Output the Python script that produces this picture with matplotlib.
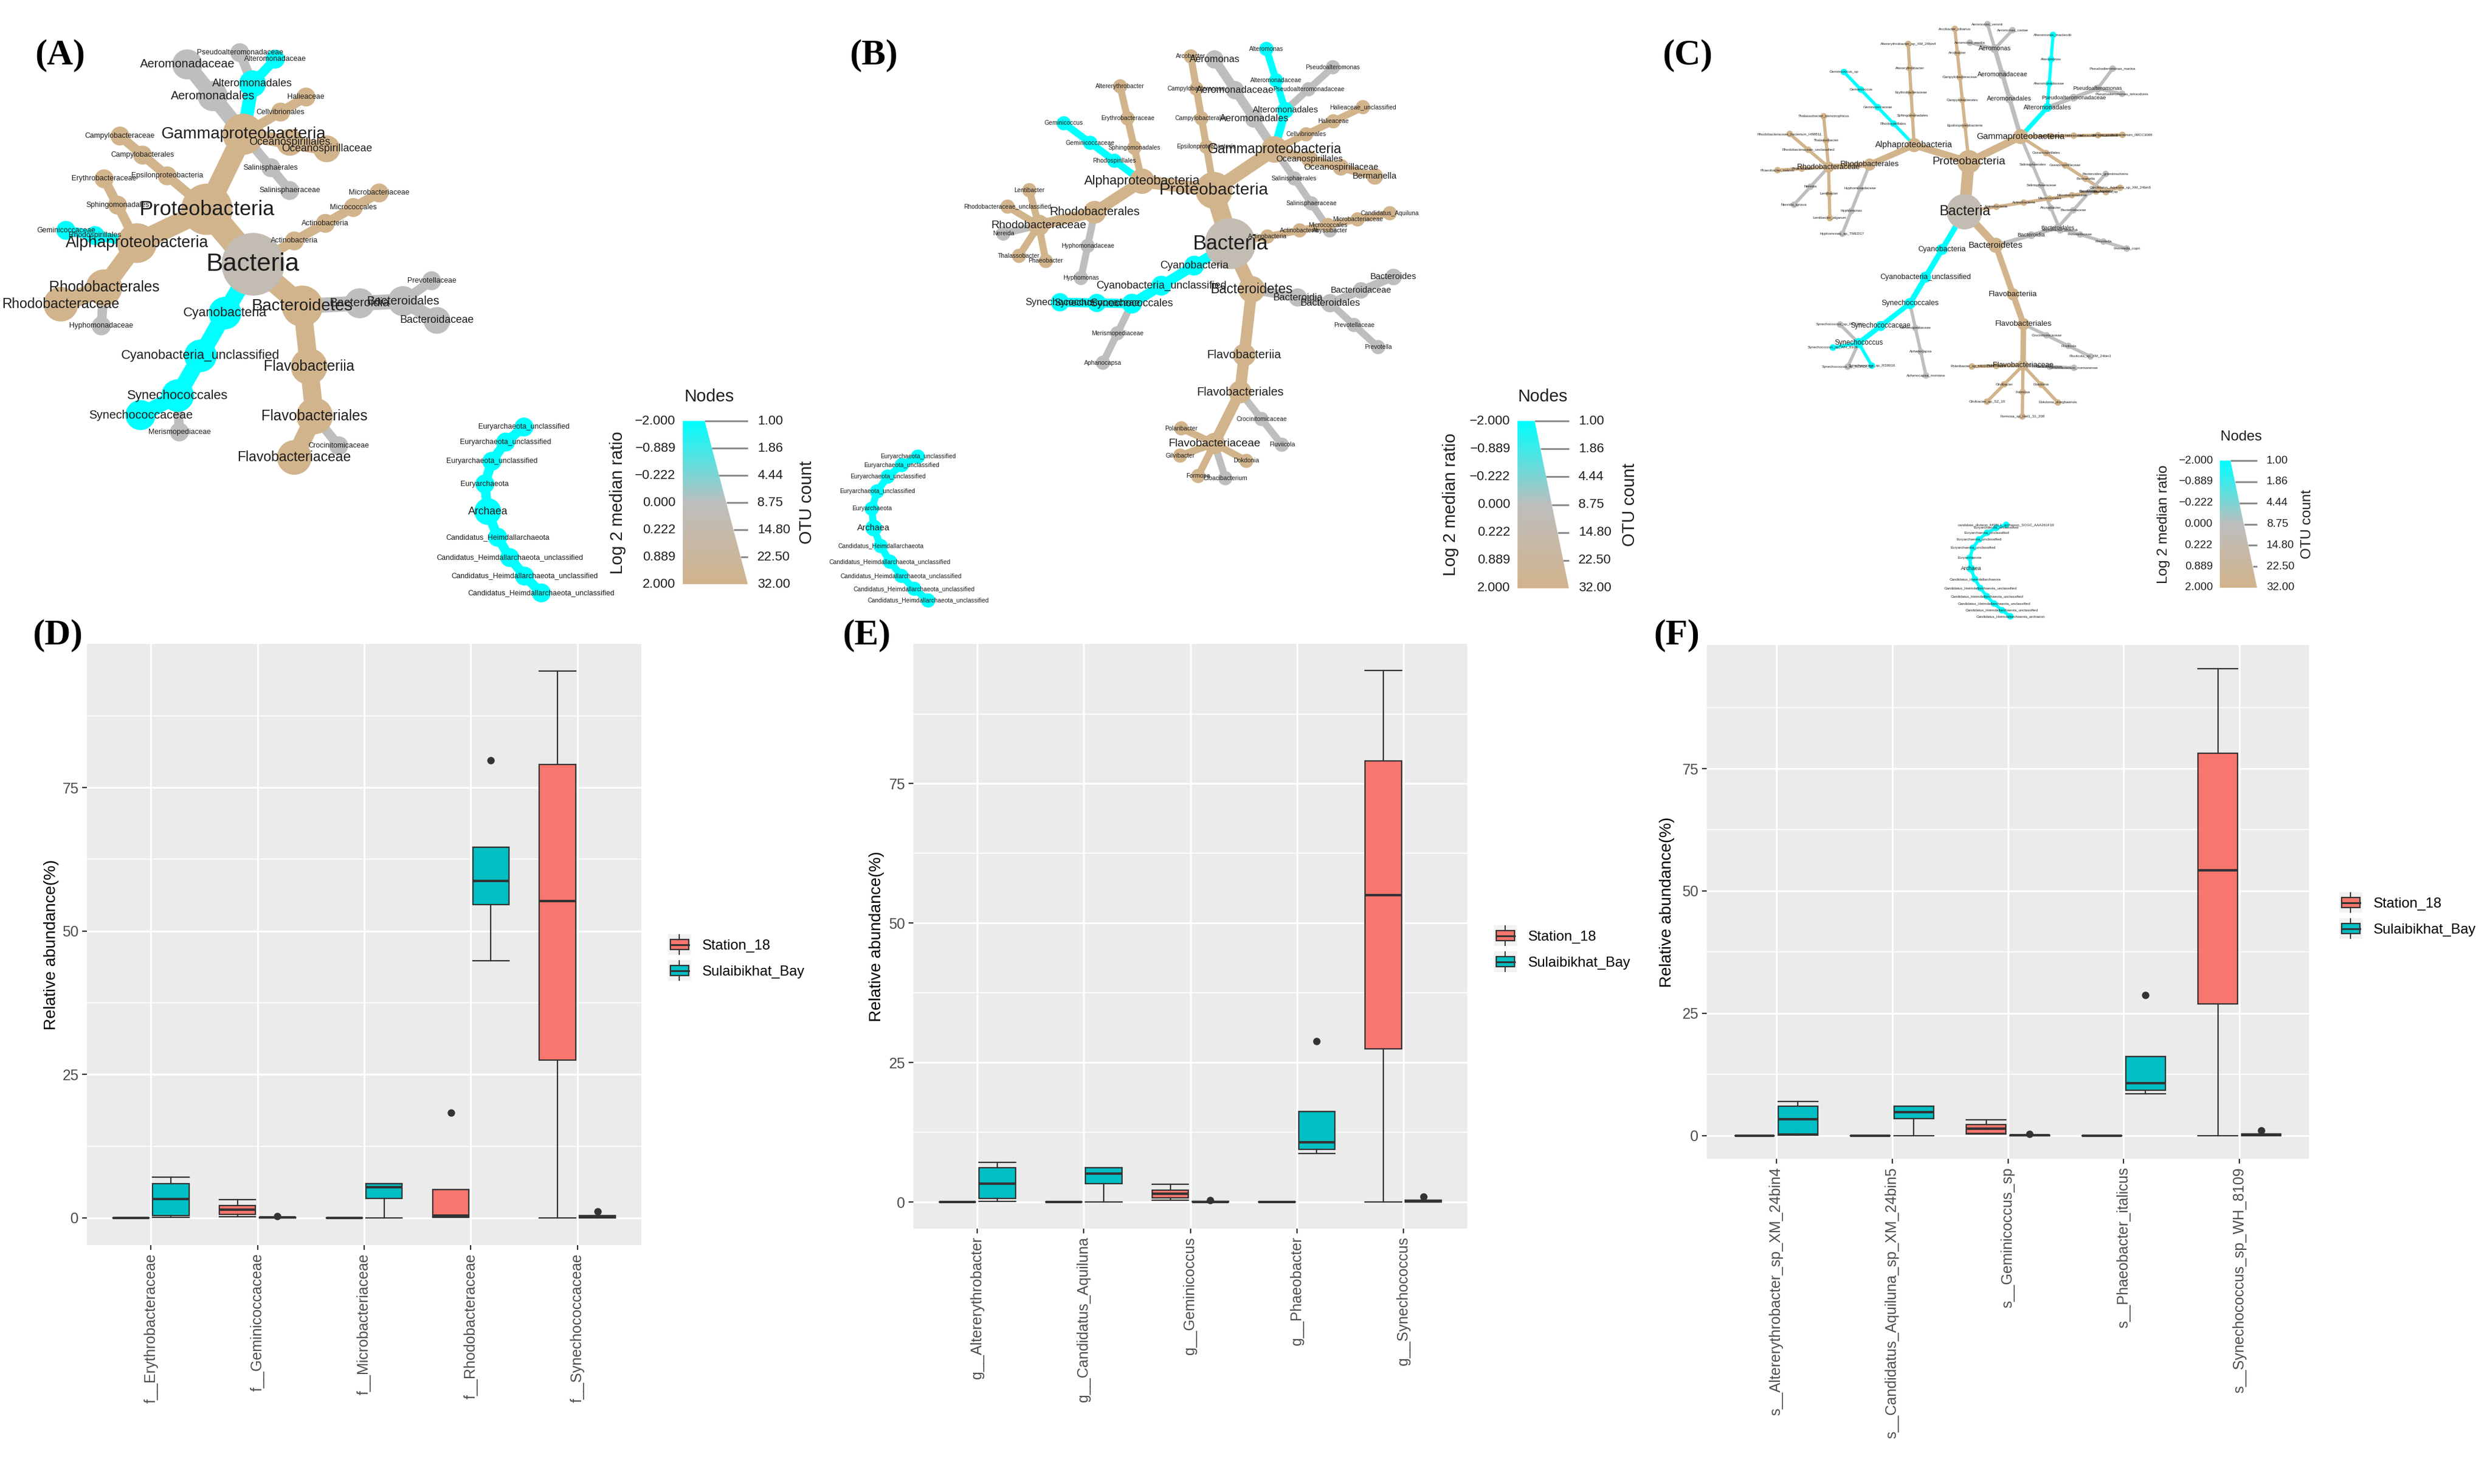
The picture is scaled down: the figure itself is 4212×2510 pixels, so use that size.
import numpy as np
import matplotlib
matplotlib.use("Agg")
import matplotlib.pyplot as plt
from matplotlib.colors import LinearSegmentedColormap
from matplotlib.patches import Circle, Polygon, Rectangle, Patch
from matplotlib.collections import PatchCollection, PolyCollection
from matplotlib.lines import Line2D
from matplotlib.legend_handler import HandlerBase

plt.rcParams['font.family'] = ['Liberation Sans', 'DejaVu Sans']

W, H = 4212, 2510

# ---------------- heat tree data: (depth, taxon, log2 median ratio, OTU count)
a_tree = [
    (0, "Bacteria", 0.15, 32),
    (1, "Proteobacteria", 2, 18),
    (2, "Alphaproteobacteria", 2, 8),
    (3, "Rhodobacterales", 2, 6),
    (4, "Hyphomonadaceae", 0, 1),
    (4, "Rhodobacteraceae", 2, 5),
    (3, "Rhodospirillales", -2, 1),
    (4, "Geminicoccaceae", -2, 1),
    (3, "Sphingomonadales", 2, 1),
    (4, "Erythrobacteraceae", 2, 1),
    (2, "Epsilonproteobacteria", 2, 1),
    (3, "Campylobacterales", 2, 1),
    (4, "Campylobacteraceae", 2, 1),
    (2, "Gammaproteobacteria", 2, 9),
    (3, "Aeromonadales", 0, 3),
    (4, "Aeromonadaceae", 0, 3),
    (3, "Alteromonadales", -2, 2),
    (4, "Pseudoalteromonadaceae", 0, 1),
    (4, "Alteromonadaceae", -2, 1),
    (3, "Cellvibrionales", 2, 1),
    (4, "Halieaceae", 2, 1),
    (3, "Oceanospirillales", 2, 2),
    (4, "Oceanospirillaceae", 2, 2),
    (3, "Salinisphaerales", 0, 1),
    (4, "Salinisphaeraceae", 0, 1),
    (1, "Actinobacteria", 2, 1),
    (2, "Actinobacteria", 2, 1),
    (3, "Micrococcales", 2, 1),
    (4, "Microbacteriaceae", 2, 1),
    (1, "Bacteroidetes", 2, 9),
    (2, "Bacteroidia", 0, 3),
    (3, "Bacteroidales", 0, 3),
    (4, "Prevotellaceae", 0, 1),
    (4, "Bacteroidaceae", 0, 2),
    (2, "Flavobacteriia", 2, 6),
    (3, "Flavobacteriales", 2, 6),
    (4, "Crocinitomicaceae", 0, 1),
    (4, "Flavobacteriaceae", 2, 5),
    (1, "Cyanobacteria", -2, 4),
    (2, "Cyanobacteria_unclassified", -2, 4),
    (3, "Synechococcales", -2, 4),
    (4, "Merismopediaceae", 0, 1),
    (4, "Synechococcaceae", -2, 3),
]
a_archaea = [
    (0, "Archaea", -2, 2),
    (1, "Euryarchaeota", -2, 1),
    (2, "Euryarchaeota_unclassified", -2, 1),
    (3, "Euryarchaeota_unclassified", -2, 1),
    (4, "Euryarchaeota_unclassified", -2, 1),
    (1, "Candidatus_Heimdallarchaeota", -2, 1),
    (2, "Candidatus_Heimdallarchaeota_unclassified", -2, 1),
    (3, "Candidatus_Heimdallarchaeota_unclassified", -2, 1),
    (4, "Candidatus_Heimdallarchaeota_unclassified", -2, 1),
]

b_tree = [
    (0, "Bacteria", 0.15, 32),
    (1, "Proteobacteria", 2, 18),
    (2, "Alphaproteobacteria", 2, 8),
    (3, "Rhodobacterales", 2, 6),
    (4, "Hyphomonadaceae", 0, 1),
    (5, "Hyphomonas", 0, 1),
    (4, "Rhodobacteraceae", 2, 5),
    (5, "Phaeobacter", 2, 1),
    (5, "Thalassobacter", 2, 1),
    (5, "Nereida", 0, 1),
    (5, "Rhodobacteraceae_unclassified", 2, 1),
    (5, "Lentibacter", 2, 1),
    (3, "Rhodospirillales", -2, 1),
    (4, "Geminicoccaceae", -2, 1),
    (5, "Geminicoccus", -2, 1),
    (3, "Sphingomonadales", 2, 1),
    (4, "Erythrobacteraceae", 2, 1),
    (5, "Altererythrobacter", 2, 1),
    (2, "Epsilonproteobacteria", 2, 1),
    (3, "Campylobacterales", 2, 1),
    (4, "Campylobacteraceae", 2, 1),
    (5, "Arcobacter", 2, 1),
    (2, "Gammaproteobacteria", 2, 9),
    (3, "Aeromonadales", 0, 3),
    (4, "Aeromonadaceae", 0, 3),
    (5, "Aeromonas", 0, 3),
    (3, "Alteromonadales", -2, 2),
    (4, "Alteromonadaceae", -2, 1),
    (5, "Alteromonas", -2, 1),
    (4, "Pseudoalteromonadaceae", 0, 1),
    (5, "Pseudoalteromonas", 0, 1),
    (3, "Cellvibrionales", 2, 1),
    (4, "Halieaceae", 2, 1),
    (5, "Halieaceae_unclassified", 2, 1),
    (3, "Oceanospirillales", 2, 2),
    (4, "Oceanospirillaceae", 2, 2),
    (5, "Bermanella", 2, 2),
    (3, "Salinisphaerales", 0, 1),
    (4, "Salinisphaeraceae", 0, 1),
    (5, "Abyssibacter", 0, 1),
    (1, "Actinobacteria", 2, 1),
    (2, "Actinobacteria", 2, 1),
    (3, "Micrococcales", 2, 1),
    (4, "Microbacteriaceae", 2, 1),
    (5, "Candidatus_Aquiluna", 2, 1),
    (1, "Bacteroidetes", 2, 9),
    (2, "Bacteroidia", 0, 3),
    (3, "Bacteroidales", 0, 3),
    (4, "Bacteroidaceae", 0, 2),
    (5, "Bacteroides", 0, 2),
    (4, "Prevotellaceae", 0, 1),
    (5, "Prevotella", 0, 1),
    (2, "Flavobacteriia", 2, 6),
    (3, "Flavobacteriales", 2, 6),
    (4, "Crocinitomicaceae", 0, 1),
    (5, "Fluviicola", 0, 1),
    (4, "Flavobacteriaceae", 2, 5),
    (5, "Dokdonia", 2, 1),
    (5, "Cloacibacterium", 0, 1),
    (5, "Formosa", 2, 1),
    (5, "Gilvibacter", 2, 1),
    (5, "Polaribacter", 2, 1),
    (1, "Cyanobacteria", -2, 4),
    (2, "Cyanobacteria_unclassified", -2, 4),
    (3, "Synechococcales", -2, 4),
    (4, "Merismopediaceae", 0, 1),
    (5, "Aphanocapsa", 0, 1),
    (4, "Synechococcaceae", -2, 3),
    (5, "Synechococcus", -2, 3),
]
b_archaea = [
    (0, "Archaea", -2, 2),
    (1, "Euryarchaeota", -2, 1),
    (2, "Euryarchaeota_unclassified", -2, 1),
    (3, "Euryarchaeota_unclassified", -2, 1),
    (4, "Euryarchaeota_unclassified", -2, 1),
    (5, "Euryarchaeota_unclassified", -2, 1),
    (1, "Candidatus_Heimdallarchaeota", -2, 1),
    (2, "Candidatus_Heimdallarchaeota_unclassified", -2, 1),
    (3, "Candidatus_Heimdallarchaeota_unclassified", -2, 1),
    (4, "Candidatus_Heimdallarchaeota_unclassified", -2, 1),
    (5, "Candidatus_Heimdallarchaeota_unclassified", -2, 1),
]

c_tree = [
    (0, "Bacteria", 0.15, 32),
    (1, "Proteobacteria", 2, 18),
    (2, "Alphaproteobacteria", 2, 8),
    (3, "Rhodobacterales", 2, 6),
    (4, "Hyphomonadaceae", 0, 1),
    (5, "Hyphomonas", 0, 1),
    (6, "Hyphomonas_sp_TMED17", 0, 1),
    (4, "Rhodobacteraceae", 2, 5),
    (5, "Lentibacter", 2, 1),
    (6, "Lentibacter_algarum", 2, 1),
    (5, "Nereida", 0, 1),
    (6, "Nereida_ignava", 0, 1),
    (5, "Phaeobacter", 2, 1),
    (6, "Phaeobacter_italicus", 2, 1),
    (5, "Rhodobacteraceae_unclassified", 2, 1),
    (6, "Rhodobacteraceae_bacterium_HIMB11", 2, 1),
    (5, "Thalassobacter", 2, 1),
    (6, "Thalassobacter_stenotrophicus", 2, 1),
    (3, "Rhodospirillales", -2, 1),
    (4, "Geminicoccaceae", -2, 1),
    (5, "Geminicoccus", -2, 1),
    (6, "Geminicoccus_sp", -2, 1),
    (3, "Sphingomonadales", 2, 1),
    (4, "Erythrobacteraceae", 2, 1),
    (5, "Altererythrobacter", 2, 1),
    (6, "Altererythrobacter_sp_XM_24bin4", 2, 1),
    (2, "Epsilonproteobacteria", 2, 1),
    (3, "Campylobacterales", 2, 1),
    (4, "Campylobacteraceae", 2, 1),
    (5, "Arcobacter", 2, 1),
    (6, "Arcobacter_cibarius", 2, 1),
    (2, "Gammaproteobacteria", 2, 9),
    (3, "Aeromonadales", 0, 3),
    (4, "Aeromonadaceae", 0, 3),
    (5, "Aeromonas", 0, 3),
    (6, "Aeromonas_media", 0, 1),
    (6, "Aeromonas_veronii", 0, 1),
    (6, "Aeromonas_caviae", 0, 1),
    (3, "Alteromonadales", -2, 3),
    (4, "Alteromonadaceae", -2, 1),
    (5, "Alteromonas", -2, 1),
    (6, "Alteromonas_macleodii", -2, 1),
    (4, "Pseudoalteromonadaceae", 0, 2),
    (5, "Pseudoalteromonas", 0, 2),
    (6, "Pseudoalteromonas_marina", 0, 1),
    (6, "Pseudoalteromonas_tetraodonis", 0, 1),
    (3, "Cellvibrionales", 2, 1),
    (4, "Halieaceae", 2, 1),
    (5, "Halieaceae_unclassified", 2, 1),
    (6, "gamma_proteobacterium_IMCC3088", 2, 1),
    (3, "Oceanospirillales", 2, 1),
    (4, "Oceanospirillaceae", 2, 1),
    (5, "Bermanella", 2, 1),
    (6, "Bermanella_sp", 2, 1),
    (3, "Salinisphaerales", 0, 1),
    (4, "Salinisphaeraceae", 0, 1),
    (5, "Abyssibacter", 0, 1),
    (6, "Abyssibacter_profundi", 0, 1),
    (1, "Actinobacteria", 2, 1),
    (2, "Actinobacteria", 2, 1),
    (3, "Micrococcales", 2, 1),
    (4, "Microbacteriaceae", 2, 1),
    (5, "Candidatus_Aquiluna", 2, 1),
    (6, "Candidatus_Aquiluna_sp_XM_24bin5", 2, 1),
    (1, "Bacteroidetes", 2, 9),
    (2, "Bacteroidia", 0, 2),
    (3, "Bacteroidales", 0, 2),
    (4, "Bacteroidaceae", 0, 1),
    (5, "Bacteroides", 0, 1),
    (6, "Bacteroides_graminisolvens", 0, 1),
    (4, "Prevotellaceae", 0, 1),
    (5, "Prevotella", 0, 1),
    (6, "Prevotella_copri", 0, 1),
    (2, "Flavobacteriia", 2, 6),
    (3, "Flavobacteriales", 2, 6),
    (4, "Crocinitomicaceae", 0, 1),
    (5, "Fluviicola", 0, 1),
    (6, "Fluviicola_sp_XM_24bin1", 0, 1),
    (4, "Flavobacteriaceae", 2, 5),
    (5, "Cloacibacterium", 0, 1),
    (6, "Cloacibacterium_normanense", 0, 1),
    (5, "Dokdonia", 2, 1),
    (6, "Dokdonia_donghaensis", 2, 1),
    (5, "Formosa", 2, 1),
    (6, "Formosa_sp_Hel1_31_208", 2, 1),
    (5, "Gilvibacter", 2, 1),
    (6, "Gilvibacter_sp_SZ_19", 2, 1),
    (5, "Polaribacter", 2, 1),
    (6, "Polaribacter_sp_MED152", 2, 1),
    (1, "Cyanobacteria", -2, 5),
    (2, "Cyanobacteria_unclassified", -2, 5),
    (3, "Synechococcales", -2, 5),
    (4, "Merismopediaceae", 0, 1),
    (5, "Aphanocapsa", 0, 1),
    (6, "Aphanocapsa_montana", 0, 1),
    (4, "Synechococcaceae", -2, 4),
    (5, "Synechococcus", -2, 4),
    (6, "Synechococcus_sp_RS9916", -2, 1),
    (6, "Synechococcus_sp_KORDI_52", 0, 1),
    (6, "Synechococcus_sp_WH_8109", -2, 1),
    (6, "Synechococcus_sp_RCC307", 0, 1),
]
c_archaea = [
    (0, "Archaea", -2, 2),
    (1, "Euryarchaeota", -2, 1),
    (2, "Euryarchaeota_unclassified", -2, 1),
    (3, "Euryarchaeota_unclassified", -2, 1),
    (4, "Euryarchaeota_unclassified", -2, 1),
    (5, "Euryarchaeota_unclassified", -2, 1),
    (6, "candidate_division_MSBL1_archaeon_SCGC_AAA261F19", -2, 1),
    (1, "Candidatus_Heimdallarchaeota", -2, 1),
    (2, "Candidatus_Heimdallarchaeota_unclassified", -2, 1),
    (3, "Candidatus_Heimdallarchaeota_unclassified", -2, 1),
    (4, "Candidatus_Heimdallarchaeota_unclassified", -2, 1),
    (5, "Candidatus_Heimdallarchaeota_unclassified", -2, 1),
    (6, "Candidatus_Heimdallarchaeota_archaeon", -2, 1),
]

# node legend scales
ratio_ticks = [-2.000, -0.889, -0.222, 0.000, 0.222, 0.889, 2.000]
otu_ticks = [1.00, 1.86, 4.44, 8.75, 14.80, 22.50, 32.00]

# ---------------- boxplot data: (whisker low, q1, median, q3, whisker high)
d_labels = ["f__Erythrobacteraceae", "f__Geminicoccaceae", "f__Microbacteriaceae",
            "f__Rhodobacteraceae", "f__Synechococcaceae"]
d_station = [(0, 0, 0, 0, 0), (0.2, 0.6, 1.4, 2.1, 3.2), (0, 0, 0, 0, 0),
             (0.1, 0.2, 0.35, 4.9, 4.9), (0, 27.5, 55.2, 79.0, 95.3)]
d_station_out = [[], [], [], [18.3], []]
d_bay = [(0.1, 0.4, 3.3, 6.0, 7.1), (0, 0, 0.03, 0.08, 0.1), (0, 3.4, 5.3, 6.0, 6.0),
         (44.8, 54.6, 58.7, 64.6, 64.6), (0, 0.05, 0.15, 0.35, 0.35)]
d_bay_out = [[], [0.3], [], [79.8], [1.1]]

e_labels = ["g__Altererythrobacter", "g__Candidatus_Aquiluna", "g__Geminicoccus",
            "g__Phaeobacter", "g__Synechococcus"]
e_station = [(0, 0, 0, 0, 0), (0, 0, 0, 0, 0), (0.3, 0.7, 1.5, 2.1, 3.2),
             (0, 0, 0, 0, 0), (0, 27.5, 55.0, 79.1, 95.3)]
e_station_out = [[], [], [], [], []]
e_bay = [(0.1, 0.6, 3.3, 6.1, 7.1), (0, 3.3, 5.1, 6.1, 6.1), (0, 0, 0.03, 0.08, 0.1),
         (8.7, 9.4, 10.7, 16.2, 16.2), (0, 0.05, 0.15, 0.35, 0.35)]
e_bay_out = [[], [], [0.3], [28.8], [1.0]]

f_labels = ["s__Altererythrobacter_sp_XM_24bin4", "s__Candidatus_Aquiluna_sp_XM_24bin5",
            "s__Geminicoccus_sp", "s__Phaeobacter_italicus", "s__Synechococcus_sp_WH_8109"]
f_station = [(0, 0, 0, 0, 0), (0, 0, 0, 0, 0), (0.3, 0.45, 1.4, 2.2, 3.2),
             (0, 0, 0, 0, 0), (0, 26.9, 54.2, 78.1, 95.5)]
f_station_out = [[], [], [], [], []]
f_bay = [(0.1, 0.3, 3.3, 6.0, 7.0), (0, 3.4, 4.8, 6.0, 6.0), (0, 0, 0.03, 0.08, 0.1),
         (8.5, 9.3, 10.7, 16.1, 16.1), (0, 0.05, 0.15, 0.35, 0.35)]
f_bay_out = [[], [], [0.35], [28.75], [1.0]]

groups = ["Station_18", "Sulaibikhat_Bay"]
C_ST, C_SB = "#F8766D", "#00BFC4"

cmap = LinearSegmentedColormap.from_list("ht", ["#00FFFF", "#BEBEBE", "#D2B48C"])


def ratio_to_color(v):
    return cmap(np.interp(v, ratio_ticks, np.linspace(0, 1, len(ratio_ticks))))


def wrap(a):
    return (a + 180) % 360 - 180


def layout(depth, rad, start, root_spread, gaps, bias, drift=(0, 0),
           fan=(80, 50, 220), fan1=1.33, lo=0.45):
    n = len(depth)
    parent = [-1] * n
    stack = []
    for i, d in enumerate(depth):
        while stack and depth[stack[-1]] >= d:
            stack.pop()
        parent[i] = stack[-1] if stack else -1
        stack.append(i)
    kids = [[] for _ in range(n)]
    for i, p in enumerate(parent):
        if p >= 0:
            kids[p].append(i)
    leaves = np.ones(n)
    for i in reversed(range(n)):
        if kids[i]:
            leaves[i] = sum(leaves[c] for c in kids[i])
    pos = np.zeros((n, 2))
    ang = np.zeros(n)
    for v in range(n):
        ks = kids[v]
        if not ks:
            continue
        w = np.sqrt(leaves[ks])
        if parent[v] < 0:
            spread = root_spread
            a0 = start + spread * w[0] / w.sum() / 2
        elif len(ks) == 1:
            spread = 0
            a0 = ang[v] + drift[1] * wrap(drift[0] - ang[v])
        else:
            spread = min(fan[0] + fan[1] * (len(ks) - 1), fan[2])
            if depth[v] == 1:
                spread *= fan1
            a0 = ang[v] + bias[min(depth[v], len(bias) - 1)] + spread / 2
        cum = 0
        for c, wc in zip(ks, w):
            s = spread * wc / w.sum()
            a = a0 - cum - s / 2
            cum += s
            ang[c] = a
            g = gaps[min(depth[c], len(gaps) - 1)]
            if len(ks) == 1:
                g *= lo
            else:
                g *= lo + (1 - lo) * min(1.0, (leaves[c] - 1) / 4.0)
            L = rad[v] + rad[c] + g
            t = np.deg2rad(a)
            pos[c] = pos[v] + L * np.array([np.cos(t), np.sin(t)])
    return pos, parent


def draw_tree(ax, rows, origin, rr, ff, start, gaps, bias=(0,), root_spread=360,
              drift=(0, 0), pr=0.5, lo=0.45, clip=None):
    depth = [r[0] for r in rows]
    names = [r[1] for r in rows]
    ratio = np.array([r[2] for r in rows], float)
    otu = np.array([r[3] for r in rows], float)
    k = (otu - 1) / 31.0
    rad = rr[0] + (rr[1] - rr[0]) * k ** pr
    fs = ff[0] + (ff[1] - ff[0]) * np.sqrt(k)
    pos, parent = layout(depth, rad, start, root_spread, gaps, bias, drift, lo=lo)
    x = origin[0] + pos[:, 0]
    y = origin[1] - pos[:, 1]
    cols = [ratio_to_color(v) for v in ratio]
    polys, pcols = [], []
    for c, p in enumerate(parent):
        if p < 0:
            continue
        d = np.array([x[c] - x[p], y[c] - y[p]])
        d = d / np.hypot(*d)
        nrm = np.array([-d[1], d[0]]) * 0.5 * rad[c]
        a, b = np.array([x[p], y[p]]), np.array([x[c], y[c]])
        polys.append([a + nrm, b + nrm, b - nrm, a - nrm])
        pcols.append(cols[c])
    ec = PolyCollection(polys, facecolors=pcols, edgecolors="none", zorder=2)
    ax.add_collection(ec)
    nc = PatchCollection([Circle((x[i], y[i]), rad[i]) for i in range(len(rows))],
                         facecolors=cols, edgecolors="none", zorder=3)
    ax.add_collection(nc)
    arts = [ec, nc]
    for i, nm in enumerate(names):
        arts.append(ax.text(x[i], y[i], nm, fontsize=fs[i], ha="center", va="center",
                            color="#1e1e1e", zorder=4))
    if clip is not None:
        for a in arts:
            a.set_clip_path(clip)


def node_legend(ax, xl, yt, yb, xtr, xbr, fs_tick, fs_lab, xlog, xotu, title_xy):
    grad = cmap(np.linspace(0, 1, 256))[:, None, :]
    im = ax.imshow(grad, extent=(xl, xbr, yb, yt), aspect="auto", zorder=2,
                   interpolation="bilinear")
    trap = Polygon([(xl, yt), (xtr, yt), (xbr, yb), (xl, yb)], closed=True,
                   facecolor="none", edgecolor="none", transform=ax.transData)
    ax.add_patch(trap)
    im.set_clip_path(trap)
    nt = len(ratio_ticks)
    for i in range(nt):
        f = i / (nt - 1)
        yy = yt + f * (yb - yt)
        xe = xtr + f * (xbr - xtr)
        ax.plot([xe, xbr], [yy, yy], color="#8C8C8C", lw=2.2, solid_capstyle="butt", zorder=3)
        ax.text(xl - 12, yy, f"{ratio_ticks[i]:.3f}".replace("-", "\u2212"), ha="right",
                va="center", fontsize=fs_tick, color="#1e1e1e")
        ax.text(xbr + 16, yy, f"{otu_ticks[i]:.2f}", ha="left", va="center",
                fontsize=fs_tick, color="#1e1e1e")
    ym = (yt + yb) / 2
    ax.text(xlog, ym, "Log 2 median ratio", rotation=90, ha="center", va="center",
            fontsize=fs_lab, color="#1e1e1e")
    ax.text(xotu, ym, "OTU count", rotation=90, ha="center", va="center",
            fontsize=fs_lab, color="#1e1e1e")
    ax.text(title_xy[0], title_xy[1], "Nodes", ha="center", va="center",
            fontsize=fs_lab, color="#1e1e1e")


class BoxKey(HandlerBase):
    def create_artists(self, legend, orig_handle, xdescent, ydescent, width, height,
                       fontsize, trans):
        x0, y0 = -xdescent, -ydescent
        fc = orig_handle.get_facecolor()
        bg = Rectangle((x0, y0 - 0.2 * height), width, 1.4 * height, facecolor="#F2F2F2",
                       edgecolor="none", transform=trans)
        cx = x0 + width / 2
        wh = Line2D([cx, cx], [y0 - 0.15 * height, y0 + 1.15 * height], color="#333333",
                    lw=1.4, transform=trans)
        bx = Rectangle((x0 + 0.1 * width, y0 + 0.15 * height), 0.8 * width, 0.7 * height,
                       facecolor=fc, edgecolor="#333333", lw=1.6, transform=trans)
        md = Line2D([x0 + 0.1 * width, x0 + 0.9 * width], [y0 + height / 2] * 2,
                    color="#333333", lw=2.2, transform=trans)
        return [bg, wh, bx, md]


def draw_box(rect, labels, st, st_out, sb, sb_out, ylab_x, leg_xy):
    l, t, r, b = rect
    ax = fig.add_axes([l / W, 1 - b / H, (r - l) / W, (b - t) / H])
    ax.set_facecolor("#EBEBEB")
    pos = np.arange(1, len(labels) + 1)
    ymax = 0
    for boxes, outs, off, col in ((st, st_out, -0.1875, C_ST), (sb, sb_out, 0.1875, C_SB)):
        stats = [dict(whislo=bx[0], q1=bx[1], med=bx[2], q3=bx[3], whishi=bx[4], fliers=o)
                 for bx, o in zip(boxes, outs)]
        ymax = max(ymax, max(max([bx[4]] + o) for bx, o in zip(boxes, outs)))
        ax.bxp(stats, positions=pos + off, widths=0.34, capwidths=0.34, patch_artist=True,
               manage_ticks=False, zorder=3,
               boxprops=dict(facecolor=col, edgecolor="#333333", linewidth=1.6),
               medianprops=dict(color="#333333", linewidth=3.0),
               whiskerprops=dict(color="#333333", linewidth=1.6),
               capprops=dict(color="#333333", linewidth=1.6),
               flierprops=dict(marker="o", markerfacecolor="#333333",
                               markeredgecolor="#333333", markersize=8))
    ax.set_xlim(0.4, len(labels) + 0.6)
    ax.set_ylim(-0.05 * ymax, 1.05 * ymax)
    ax.set_yticks([0, 25, 50, 75])
    ax.set_yticks([12.5, 37.5, 62.5, 87.5], minor=True)
    ax.set_xticks(pos)
    ax.set_xticklabels(labels, rotation=90, ha="center", va="top")
    ax.set_axisbelow(True)
    ax.grid(which="major", color="white", lw=2.2)
    ax.grid(which="minor", axis="y", color="white", lw=1.1)
    for s in ax.spines.values():
        s.set_visible(False)
    ax.tick_params(which="major", length=6, width=1.6, color="#333333",
                   labelcolor="#4D4D4D", labelsize=18, pad=4)
    ax.tick_params(which="minor", length=0)
    ax.set_ylabel("Relative abundance(%)", fontsize=20, color="black")
    ax.yaxis.set_label_coords(ylab_x, 0.5)
    handles = [Patch(facecolor=C_ST, label=groups[0]), Patch(facecolor=C_SB, label=groups[1])]
    ax.legend(handles=handles, handler_map={Patch: BoxKey()}, loc="center left",
              bbox_to_anchor=(leg_xy[0] / W, 1 - leg_xy[1] / H), bbox_transform=fig.transFigure,
              frameon=False, fontsize=17.5, handlelength=1.6, handleheight=1.2,
              labelspacing=0.75, handletextpad=0.8, borderpad=0, borderaxespad=0)
    return ax


fig = plt.figure(figsize=(W / 100, H / 100), dpi=100)
ov = fig.add_axes([0, 0, 1, 1])
ov.set_xlim(0, W)
ov.set_ylim(H, 0)
ov.axis("off")

# ---- heat trees
draw_tree(ov, a_tree, (428, 447), (16, 53), (9, 31), 130, [0, 25, 63, 50, 40],
          bias=(0, 0, -25, 0))
draw_tree(ov, a_archaea, (825, 865), (16, 53), (9, 31), 96, [0, 18], root_spread=330,
          drift=(-20, 0.2))
node_legend(ov, 1155, 712, 988, 1192, 1265, 16, 21, 1045, 1365, (1200, 671))

draw_tree(ov, b_tree, (2081, 412), (12, 43), (7.5, 25), 107, [0, 20, 70, 55, 60, 70],
          bias=(0, 0, 0, 0), pr=0.8)
b_clip = Rectangle((1400, 0), 1400, 1030, transform=ov.transData)
draw_tree(ov, b_archaea, (1478, 893), (12, 43), (7.5, 25), 96, [0, 15], root_spread=330,
          drift=(-20, 0.2), pr=0.8, clip=b_clip)
node_legend(ov, 2567, 712, 995, 2596, 2654, 16, 21, 2454, 2757, (2610, 671))

draw_tree(ov, c_tree, (3323, 358), (5.5, 30), (4.5, 17), 85, [0, 35, 65, 60, 50, 55, 55],
          bias=(0, 8, 0), root_spread=300, pr=0.9, lo=0.55)
draw_tree(ov, c_archaea, (3334, 962), (5.5, 30), (4.5, 17), 96, [0, 12], root_spread=330,
          drift=(-20, 0.2), pr=0.9, lo=0.55)
node_legend(ov, 3755, 779, 994, 3773, 3818, 13.5, 17.5, 3660, 3903, (3791, 739))

ov.set_xlim(0, W)
ov.set_ylim(H, 0)

# ---- panel letters
for lab, px, py in (("(A)", 59, 94), ("(B)", 1437, 94), ("(C)", 2812, 94),
                    ("(D)", 55, 1075), ("(E)", 1425, 1075), ("(F)", 2797, 1075)):
    ov.text(px, py, lab, fontsize=44, fontweight="bold", family="Liberation Serif",
            ha="left", va="center", color="black")

# ---- boxplots
draw_box((147, 1089, 1085, 2106), d_labels, d_station, d_station_out, d_bay, d_bay_out,
         -0.050, (1130, 1620))
draw_box((1545, 1089, 2482, 2078), e_labels, e_station, e_station_out, e_bay, e_bay_out,
         -0.052, (2527, 1605))
draw_box((2887, 1091, 3906, 1960), f_labels, f_station, f_station_out, f_bay, f_bay_out,
         -0.053, (3957, 1549))

fig.savefig("out.png", dpi=100, facecolor="white")
